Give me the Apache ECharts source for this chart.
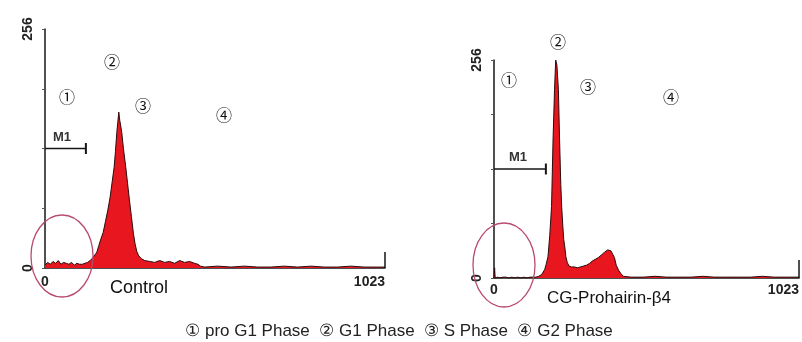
<!DOCTYPE html>
<html>
<head>
<meta charset="utf-8">
<script src="https://cdn.jsdelivr.net/npm/echarts@6.0.0/dist/echarts.min.js"></script>
<style>
html, body { margin: 0; padding: 0; background: #fff; }
#cellCycle { width: 802px; height: 342px; }
</style>
</head>
<body>
<div id="cellCycle"></div>
<script>
// DNA content channel (0-1023) vs cell count
const controlChannel = [0, 8, 16, 24, 32, 40, 48, 56, 64, 72, 80, 88, 96, 104, 112, 120, 128, 136, 144, 150, 156, 162, 168, 175, 182, 189, 196, 202, 208, 212, 216, 219, 222, 225, 228, 231, 236, 243, 248, 254, 260, 266, 271, 276, 282, 290, 300, 315, 330, 345, 360, 375, 390, 405, 420, 435, 450, 460, 468, 480, 520, 560, 600, 640, 680, 720, 760, 800, 840, 880, 920, 960, 1000, 1023];
const controlCount = [3, 6, 4, 7, 5, 8, 4, 6, 5, 4, 6, 3, 5, 4, 4, 5, 6, 8, 11, 14, 17, 24, 31, 38, 50, 62, 76, 92, 108, 125, 145, 156, 167, 158, 152, 145, 128, 108, 92, 73, 55, 37, 26, 18, 13, 10, 8, 7, 6, 8, 6, 7, 5, 8, 6, 7, 5, 4, 2, 1, 2, 1, 2, 1, 1, 2, 1, 2, 1, 1, 2, 1, 1, 1];

const treatedChannel = [0, 2, 4, 6, 12, 20, 30, 40, 50, 60, 70, 80, 90, 100, 110, 120, 130, 140, 150, 160, 166, 170, 175, 181, 187, 193, 198, 203, 207, 211, 216, 220, 224, 227, 231, 234, 238, 241, 246, 252, 260, 270, 280, 290, 300, 310, 320, 330, 340, 350, 360, 370, 376, 381, 386, 392, 398, 404, 410, 418, 426, 434, 440, 460, 500, 540, 580, 620, 660, 700, 740, 780, 820, 860, 900, 940, 980, 1023];
const treatedCount = [0, 12, 0, 1, 1, 0, 1, 1, 0, 1, 0, 1, 0, 1, 0, 1, 1, 1, 2, 4, 6, 10, 16, 25, 50, 84, 162, 221, 256, 250, 221, 162, 110, 84, 60, 45, 35, 25, 18, 14, 13, 13, 12, 13, 14, 15, 17, 20, 22, 24, 27, 30, 31, 33, 31, 32, 28, 24, 15, 9, 5, 2, 1, 1, 1, 2, 1, 1, 1, 2, 1, 1, 1, 1, 2, 1, 1, 1];

// M1 gate: from channel 0 to this channel, drawn at count 128
const m1End = [123, 174];
const m1Level = 128;

const xLabels = [0, 1023];
const yLabels = [0, 256];
const sampleNames = ["Control", "CG-Prohairin-β4"];
const phaseMarks = ["①", "②", "③", "④"];
const phaseNames = ["pro G1 Phase", "G1 Phase", "S Phase", "G2 Phase"];

const chartInstance = echarts.init(document.getElementById("cellCycle"));

const inkColor = "#161616";
const redFill = "#e8161e";
const circleColor = "#b94c6c";
const labelFont = "'Liberation Sans', Arial, sans-serif";
const markFont = "'Noto Sans CJK SC', 'DejaVu Sans', sans-serif";

const grids = [
  { left: 45, top: 29, width: 340, height: 239 },
  { left: 494, top: 60, width: 306, height: 218 },
];

function makeXAxis(idx, margin) {
  return {
    type: "value",
    gridIndex: idx,
    min: 0,
    max: 1023,
    axisLine: { show: true, lineStyle: { color: inkColor, width: 1.5 } },
    axisTick: {
      show: true,
      customValues: [1023],
      inside: true,
      length: idx === 0 ? 16 : 18,
      lineStyle: { color: inkColor, width: 1.5 },
    },
    axisLabel: {
      customValues: xLabels,
      alignMaxLabel: "right",
      margin: margin,
      color: "#222",
      fontSize: 14,
      fontWeight: "bold",
      fontFamily: labelFont,
      formatter: (v) => String(v),
    },
    splitLine: { show: false },
  };
}

function makeYAxis(idx) {
  return {
    type: "value",
    gridIndex: idx,
    min: 0,
    max: 256,
    interval: 64,
    axisLine: { show: true, lineStyle: { color: inkColor, width: 1.5 } },
    axisTick: { show: true, length: 3, lineStyle: { color: "#555" } },
    axisLabel: {
      rotate: 90,
      margin: 10,
      color: "#222",
      fontSize: 14,
      fontWeight: "bold",
      fontFamily: labelFont,
      showMinLabel: true,
      showMaxLabel: true,
      formatter: (v) => (yLabels.indexOf(v) >= 0 ? String(v) : ""),
    },
    splitLine: { show: false },
  };
}

function histSeries(idx, xs, ys) {
  return {
    name: sampleNames[idx],
    type: "line",
    xAxisIndex: idx,
    yAxisIndex: idx,
    symbol: "none",
    data: xs.map((x, i) => [x, ys[i]]),
    lineStyle: { color: "#2a0c0c", width: 1 },
    areaStyle: { color: redFill, opacity: 1 },
    z: 3,
  };
}

function gateSeries(idx) {
  return {
    name: "M1",
    type: "line",
    xAxisIndex: idx,
    yAxisIndex: idx,
    symbol: "none",
    showSymbol: true,
    data: [
      [0, m1Level],
      { value: [m1End[idx], m1Level], symbol: "rect", symbolSize: [2, 11] },
    ],
    lineStyle: { color: inkColor, width: 1.5 },
    itemStyle: { color: inkColor },
    z: 4,
  };
}

function textEl(x, y, text, font, extra) {
  return {
    type: "text",
    x: x,
    y: y,
    style: Object.assign(
      { text: text, font: font, fill: "#111", align: "center", verticalAlign: "middle" },
      extra || {}
    ),
    z: 10,
  };
}

const markSpots = [
  [[67, 97], [112, 62], [143, 106], [224, 115]],
  [[509, 80], [558, 42], [588, 87], [671, 97]],
];

const graphics = [];
markSpots.forEach((spots) => {
  spots.forEach((p, i) => {
    graphics.push(textEl(p[0], p[1], phaseMarks[i], "16px " + markFont));
  });
});
graphics.push(textEl(62, 137, "M1", "bold 13px " + labelFont, { fill: "#333" }));
graphics.push(textEl(518, 157, "M1", "bold 13px " + labelFont, { fill: "#333" }));
graphics.push(textEl(139, 288, sampleNames[0], "18px " + labelFont));
graphics.push(textEl(609, 298, sampleNames[1], "17px " + labelFont));
graphics.push(
  textEl(
    399,
    331,
    phaseNames.map((n, i) => phaseMarks[i] + " " + n).join("  "),
    "17px " + labelFont,
    { fill: "#222" }
  )
);
graphics.push({
  type: "ellipse",
  shape: { cx: 62, cy: 256, rx: 31, ry: 41 },
  style: { fill: "none", stroke: circleColor, lineWidth: 1.3 },
  z: 9,
});
graphics.push({
  type: "ellipse",
  shape: { cx: 504, cy: 265, rx: 31, ry: 42 },
  style: { fill: "none", stroke: circleColor, lineWidth: 1.3 },
  z: 9,
});

const option = {
  backgroundColor: "#fff",
  animation: false,
  grid: grids,
  xAxis: [makeXAxis(0, 7), makeXAxis(1, 5)],
  yAxis: [makeYAxis(0), makeYAxis(1)],
  series: [
    histSeries(0, controlChannel, controlCount),
    histSeries(1, treatedChannel, treatedCount),
    gateSeries(0),
    gateSeries(1),
  ],
  graphic: graphics,
};

chartInstance.setOption(option);
</script>
</body>
</html>
